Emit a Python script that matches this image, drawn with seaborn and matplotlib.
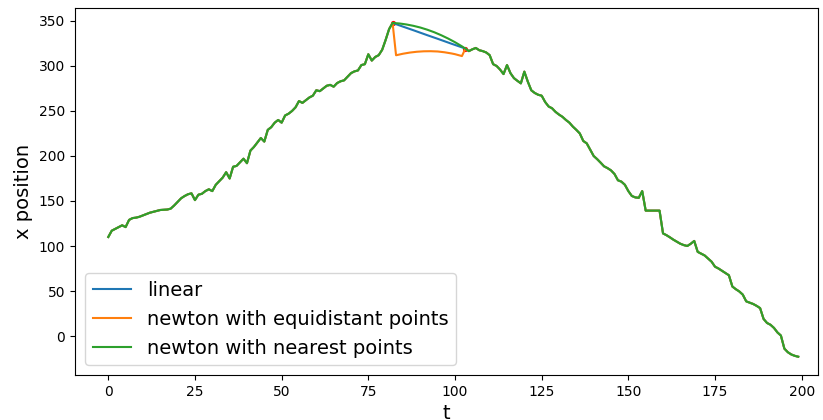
import matplotlib
matplotlib.use("Agg")
import matplotlib.pyplot as plt
import seaborn as sns
import numpy as np

# time axis
t_all = list(range(200))

# known x positions before the gap (t = 0..82)
x_before = [110, 117, 119, 121, 123, 121, 129, 131, 131.5, 132.5,
            134, 135.5, 137, 138, 139, 140, 140.3, 140.5, 141.5, 145,
            149, 153, 155.5, 157.5, 158.5, 151, 157, 158, 161, 163,
            161, 168, 172, 176, 182, 175, 188, 189, 193, 197,
            192, 206, 210, 215, 220, 216, 229, 232, 237, 240,
            237, 245, 247, 250, 254, 261, 259, 262, 265, 267,
            273, 272, 275, 278, 279, 277, 281, 283, 284, 288,
            292, 294, 295, 301, 302, 313, 306, 310, 312, 318,
            329, 341, 347.8]

# known x positions after the gap (t = 103..199)
x_after = [319.3, 316.5, 318.5, 320, 317.5, 316.5, 315, 312, 302, 300,
           296, 291, 301, 292, 286.5, 283.5, 280.7, 293.7, 282.6, 273,
           270, 268, 267, 260, 255, 253, 249, 246, 243.5, 240,
           237, 232.6, 229, 225, 216.7, 214, 207, 200, 196.5, 192.6,
           188.5, 186.5, 184, 180, 173, 171.5, 168, 161, 155.6, 154,
           153.5, 161, 139.3, 139.3, 139.3, 139.3, 139.3, 114, 112, 109.6,
           107, 104.8, 102.5, 101, 100, 102.5, 105.6, 93.5, 91.5, 89.5,
           86, 82.6, 77, 75, 72.5, 70, 67.5, 55, 52, 49.5,
           46, 38.5, 37, 35.6, 33.5, 31, 19, 14.5, 12.5, 9,
           4, 0.5, -14, -18, -20.5, -22, -23]

# filled-in values for the gap (t = 83..102)
linear_gap = [346.4, 345.1, 343.7, 342.4, 341.0, 339.7, 338.3, 337.0, 335.6, 334.2,
              332.9, 331.5, 330.2, 328.8, 327.5, 326.1, 324.7, 323.4, 322.0, 320.7]
equi_gap = [311.9, 312.8, 313.6, 314.3, 314.9, 315.4, 315.8, 316.1, 316.3, 316.4,
            316.4, 316.3, 316.1, 315.7, 315.2, 314.6, 313.9, 313.1, 312.1, 311.0]
nearest_gap = [347.5, 347.2, 346.7, 346.1, 345.4, 344.6, 343.7, 342.7, 341.5, 340.3,
               338.9, 337.5, 335.9, 334.2, 332.4, 330.5, 328.5, 326.4, 324.1, 321.8]

labels = ["linear", "newton with equidistant points", "newton with nearest points"]
colors = ["#1f77b4", "#ff7f0e", "#2ca02c"]
gaps = [linear_gap, equi_gap, nearest_gap]

# gap endpoints (known points)
end_t = [82, 103]
end_x = [347.8, 319.3]

fig = plt.figure(figsize=(8.23, 4.20), dpi=100)
ax = fig.add_axes([75/823, 1 - 375/420, (818 - 75)/823, (375 - 8)/420])

for lab, col, gap in zip(labels, colors, gaps):
    series = x_before + gap + x_after
    sns.lineplot(x=t_all, y=series, ax=ax, color=col, label=lab,
                 linewidth=1.5, errorbar=None)

sns.scatterplot(x=end_t, y=end_x, ax=ax, color="red", s=14,
                linewidth=0, zorder=1.9, legend=False)

ax.set_xlim(-9.6, 204.7)
ax.set_ylim(-43.3, 364.4)
ax.set_xticks([0, 25, 50, 75, 100, 125, 150, 175, 200])
ax.set_yticks([0, 50, 100, 150, 200, 250, 300, 350])
ax.set_xlabel("t", fontsize=14)
ax.set_ylabel("x position", fontsize=14)
ax.legend(loc="lower left", fontsize=14)

fig.savefig("out.png", dpi=100)
